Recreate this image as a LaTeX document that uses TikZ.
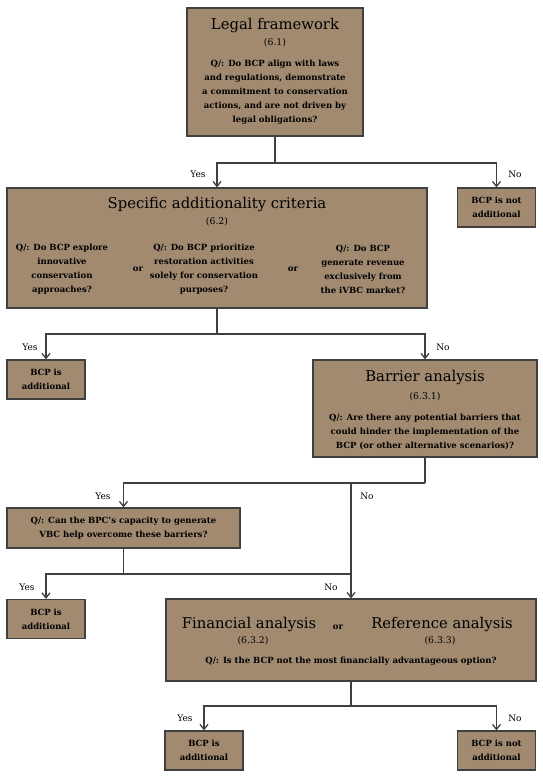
\documentclass[tikz,border=0pt]{standalone}
\usepackage{fontspec}
\setmainfont{DejaVu Serif}
\usetikzlibrary{arrows.meta}

\definecolor{boxfill}{RGB}{161,138,112}
\definecolor{boxline}{RGB}{64,64,64}

\begin{document}
\begin{tikzpicture}[x=1pt, y=-1pt,
  box/.style={draw=boxline, line width=1.2pt, fill=boxfill, inner sep=0pt},
  smallbox/.style={box, minimum width=78pt, minimum height=39pt, align=center,
    font=\bfseries\fontsize{8.5}{14}\selectfont},
  title/.style={font=\fontsize{14.8}{16}\selectfont},
  secnum/.style={font=\fontsize{9.3}{10}\selectfont},
  qtext/.style={font=\bfseries\fontsize{8.5}{14}\selectfont, align=center},
  answer/.style={font=\fontsize{9}{11}\selectfont},
  link/.style={draw=boxline, line width=1.3pt},
  arrow/.style={link, -{Straight Barb[length=5pt, width=8pt]}}]

  \useasboundingbox (0,0) rectangle (543,779);

  % Legal framework
  \node[box, minimum width=176pt, minimum height=128pt] (legal) at (275,72) {};
  \node[title] (legaltitle) at (275,26) {Legal framework};
  \node[secnum] (legalnum) at (275,43) {(6.1)};
  \node[qtext] (legalq) at (275,92) {Q/: Do BCP align with laws\\and regulations, demonstrate\\a commitment to conservation\\actions, and are not driven by\\legal obligations?};

  % Specific additionality criteria
  \node[box, minimum width=420pt, minimum height=120pt] (spec) at (217,248) {};
  \node[title] (spectitle) at (217,205) {Specific additionality criteria};
  \node[secnum] (specnum) at (217,222) {(6.2)};
  \node[qtext] (specqa) at (62,269) {Q/: Do BCP explore\\innovative\\conservation\\approaches?};
  \node[qtext] (specor1) at (138,269) {or};
  \node[qtext] (specqb) at (204,269) {Q/: Do BCP prioritize\\restoration activities\\solely for conservation\\purposes?};
  \node[qtext] (specor2) at (293,269) {or};
  \node[qtext] (specqc) at (363,269) {Q/: Do BCP\\generate revenue\\exclusively from\\the iVBC market?};

  % Barrier analysis
  \node[box, minimum width=224pt, minimum height=97pt] (barrier) at (425,408.5) {};
  \node[title] (barriertitle) at (425,378) {Barrier analysis};
  \node[secnum] (barriernum) at (425,397) {(6.3.1)};
  \node[qtext] (barrierq) at (425,432) {Q/: Are there any potential barriers that\\could hinder the implementation of the\\BCP (or other alternative scenarios)?};

  % Capacity question
  \node[box, qtext, minimum width=233pt, minimum height=40pt] (capq) at (123.5,528)
    {Q/: Can the BPC's capacity to generate\\VBC help overcome these barriers?};

  % Financial / reference analysis
  \node[box, minimum width=370pt, minimum height=82pt] (fin) at (351,640) {};
  \node[title] (fintitle) at (249,625) {Financial analysis};
  \node[qtext] (finor) at (338,627) {or};
  \node[title] (reftitle) at (442,625) {Reference analysis};
  \node[secnum] (finnum) at (253,641) {(6.3.2)};
  \node[secnum] (refnum) at (440,641) {(6.3.3)};
  \node[qtext] (finq) at (351,661) {Q/: Is the BCP not the most financially advantageous option?};

  % Outcomes
  \node[smallbox] (notadd1) at (496.5,207.5) {BCP is not\\additional};
  \node[smallbox] (add1) at (46,379.5) {BCP is\\additional};
  \node[smallbox] (add2) at (46,619) {BCP is\\additional};
  \node[smallbox] (add3) at (204,750.5) {BCP is\\additional};
  \node[smallbox] (notadd2) at (496.5,750.5) {BCP is not\\additional};

  % Junctions
  \coordinate (j1) at (275,163);
  \coordinate (j2) at (217,334);
  \coordinate (j3) at (425,483);
  \coordinate (j3no) at (351,483);
  \coordinate (j4) at (123.5,574);
  \coordinate (j4no) at (351,574);
  \coordinate (j5) at (351,706);

  % Connect nodes
  \draw[link] (legal.south) -- (j1);
  \draw[arrow] (j1) -| (spec.north);
  \draw[arrow] (j1) -| (notadd1.north);

  \draw[link] (spec.south) -- (j2);
  \draw[arrow] (j2) -| (add1.north);
  \draw[arrow] (j2) -| (barrier.north);

  \draw[link] (barrier.south) -- (j3);
  \draw[arrow] (j3) -| (capq.north);
  \draw[arrow] (j3no) -- (fin.north);

  \draw[link] (capq.south) -- (j4);
  \draw[arrow] (j4) -| (add2.north);
  \draw[link] (j4) -- (j4no);

  \draw[link] (fin.south) -- (j5);
  \draw[arrow] (j5) -| (add3.north);
  \draw[arrow] (j5) -| (notadd2.north);

  % Answers
  \node[answer] (yes1) at (198,174) {Yes};
  \node[answer] (no1) at (515,174) {No};
  \node[answer] (yes2) at (30,347) {Yes};
  \node[answer] (no2) at (443,347) {No};
  \node[answer] (yes3) at (103,496) {Yes};
  \node[answer] (no3) at (367,496) {No};
  \node[answer] (yes4) at (27,587) {Yes};
  \node[answer] (no4) at (331,587) {No};
  \node[answer] (yes5) at (185,718) {Yes};
  \node[answer] (no5) at (515,718) {No};
\end{tikzpicture}
\end{document}
